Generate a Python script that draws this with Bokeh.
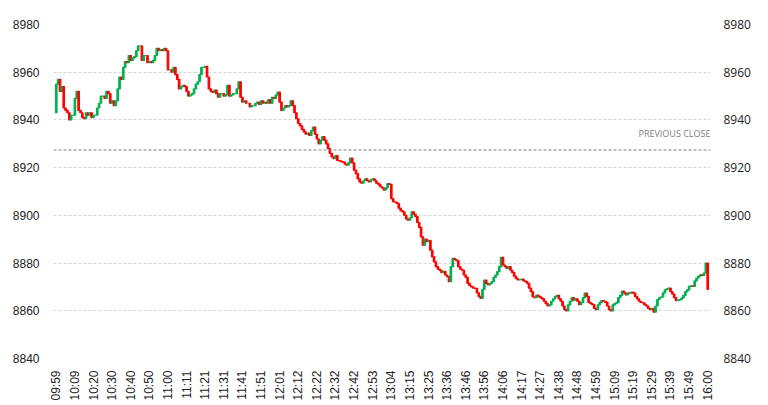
from bokeh.plotting import figure
from bokeh.models import ColumnDataSource, FixedTicker, LinearAxis, Span, Label, Range1d
from bokeh.embed import file_html
from bokeh.resources import INLINE

# ---- data ----
time_labels = ["09:59", "10:09", "10:20", "10:30", "10:40", "10:50", "11:00", "11:11",
               "11:21", "11:31", "11:41", "11:51", "12:01", "12:12", "12:22", "12:32",
               "12:42", "12:53", "13:04", "13:15", "13:25", "13:36", "13:46", "13:56",
               "14:06", "14:17", "14:27", "14:38", "14:48", "14:59", "15:09", "15:19",
               "15:29", "15:39", "15:49", "16:00"]
y_ticks = [8840, 8860, 8880, 8900, 8920, 8940, 8960, 8980]
previous_close = 8927.4
first_open = 8943.0
closes = [
    8955, 8957, 8952, 8954, 8945, 8944, 8943, 8940, 8942, 8942,
    8949, 8952, 8944, 8943, 8941, 8940.5, 8943, 8942, 8943, 8941,
    8942, 8942, 8945, 8947, 8950, 8950, 8949, 8952, 8951, 8947,
    8948, 8946, 8948, 8953, 8958, 8957, 8962, 8964.5, 8964, 8967,
    8965, 8966, 8966.5, 8969, 8971, 8971, 8965, 8967, 8967, 8964,
    8964.5, 8964, 8965, 8967, 8970, 8969, 8969.5, 8969, 8970, 8969,
    8961, 8961, 8960, 8962, 8959, 8957, 8953, 8954, 8954.5, 8954,
    8952, 8950, 8950.5, 8951, 8953, 8955, 8956, 8959, 8962, 8962,
    8962.5, 8958, 8953, 8952, 8951.5, 8952.5, 8951, 8949.5, 8951, 8951,
    8950, 8950.5, 8954.5, 8950, 8950.5, 8951, 8951, 8953, 8956, 8949.5,
    8947.5, 8948, 8947, 8947, 8945.5, 8946, 8946, 8947, 8947.5, 8946.5,
    8948, 8947, 8947.5, 8947, 8948.5, 8947, 8949.5, 8949, 8950.5, 8951.7,
    8947.5, 8944, 8945, 8946, 8945.5, 8946, 8948, 8946, 8943, 8940.5,
    8938.5, 8937.5, 8936, 8935, 8934, 8934.5, 8933.5, 8935.5, 8937, 8934,
    8932, 8930, 8931.5, 8933, 8931.5, 8930, 8928, 8926, 8924.5, 8923.8,
    8925, 8923, 8922.8, 8922.5, 8922.3, 8921.5, 8921, 8922, 8924, 8922,
    8919, 8917.5, 8915.3, 8914, 8913.5, 8914.5, 8915.3, 8914.5, 8914, 8915,
    8915.3, 8914.5, 8913.5, 8913, 8912, 8911.5, 8910.6, 8911.5, 8913.3, 8913,
    8907, 8905.7, 8905.5, 8905, 8903, 8902, 8901.5, 8900, 8898.5, 8898,
    8899, 8901.5, 8900.5, 8899.5, 8897, 8895, 8891, 8887.5, 8890, 8889,
    8889.5, 8885.4, 8882.6, 8880.5, 8878.5, 8877.5, 8877, 8876, 8876.5, 8875,
    8874.3, 8872.2, 8878.5, 8882, 8881.5, 8881, 8878.5, 8877.5, 8877, 8875,
    8874, 8871.5, 8870.5, 8870, 8869.5, 8869.4, 8867.5, 8866, 8865.2, 8869,
    8872.9, 8871.5, 8870.8, 8871.5, 8872.2, 8874, 8875, 8876.4, 8878.5, 8882.4,
    8879.2, 8878.5, 8877.8, 8878.5, 8877, 8876, 8874.5, 8873.5, 8872.9, 8873,
    8873.3, 8872.5, 8872.2, 8871.5, 8869.5, 8868, 8865.8, 8865.5, 8866.6, 8866,
    8865.5, 8865, 8864, 8863, 8862, 8862.5, 8864, 8865, 8866, 8866.5,
    8865, 8864, 8862, 8860.5, 8860, 8862.5, 8864, 8865.5, 8864.5, 8865,
    8864, 8862.6, 8863.5, 8865.5, 8867.4, 8866, 8863.5, 8863, 8862.6, 8861,
    8860.5, 8862.5, 8863.5, 8864.3, 8864, 8863.5, 8862, 8860.5, 8860, 8862.5,
    8863, 8863.5, 8865.5, 8866.5, 8868.2, 8867.5, 8866.7, 8867.5, 8867.4, 8867.8,
    8867.4, 8866, 8865, 8864, 8863.5, 8863.3, 8862.5, 8862, 8861, 8860.5,
    8861, 8859.4, 8862, 8864.7, 8865.5, 8865.8, 8867.5, 8868.8, 8869.2, 8869.5,
    8868, 8867, 8865.5, 8864.3, 8864.5, 8864.7, 8865.4, 8866.5, 8868, 8868.8,
    8870.2, 8870.5, 8870.2, 8872.5, 8873.7, 8874.5, 8875.1, 8874.8, 8875.8, 8880,
    8869,
]
opens = [first_open] + closes[:-1]
idx = list(range(len(closes)))
UP, DOWN = "#00B050", "#FF0000"
colors = [UP if c >= o else DOWN for o, c in zip(opens, closes)]
tops = [max(o, c) for o, c in zip(opens, closes)]
bottoms = [min(o, c) for o, c in zip(opens, closes)]

src = ColumnDataSource(dict(x=idx, top=tops, bottom=bottoms, color=colors))

p = figure(frame_width=657, frame_height=334, output_backend="svg", toolbar_location=None,
           x_range=Range1d(-1.5, 351.5), y_range=Range1d(8840, 8980),
           min_border_left=53, min_border_right=50, min_border_top=24, min_border_bottom=44)
p.outline_line_color = None
p.background_fill_color = "white"

p.vbar(x="x", top="top", bottom="bottom", width=0.8, source=src,
       fill_color="color", line_color="color", line_width=1.2)

# previous close
p.add_layout(Span(location=previous_close, dimension="width", line_color="#7f7f7f",
                  line_width=1, line_dash="3 2"))
p.add_layout(Label(x=351.5, y=previous_close, text="PREVIOUS CLOSE", text_align="right",
                   text_baseline="bottom", y_offset=10, text_color="#808080",
                   text_font="Open Sans", text_font_size="9px"))

# grid
p.xgrid.grid_line_color = None
p.ygrid.ticker = FixedTicker(ticks=y_ticks)
p.ygrid.grid_line_color = "#d4d4d4"
p.ygrid.grid_line_dash = "3 2"

# x axis
xa = p.xaxis[0]
xa.ticker = FixedTicker(ticks=[i * 10 for i in range(len(time_labels))])
xa.major_label_overrides = {i * 10: t for i, t in enumerate(time_labels)}
xa.major_label_orientation = 1.5707963
xa.major_label_standoff = 12
xa.major_label_text_font = "Liberation Sans"
xa.major_label_text_font_size = "12px"
xa.major_label_text_color = "#222222"

# left y axis
ya = p.yaxis[0]
ya.ticker = FixedTicker(ticks=y_ticks)
ya.major_label_standoff = 14
ya.major_label_text_font = "Liberation Sans"
ya.major_label_text_font_size = "12px"
ya.major_label_text_color = "#222222"

# right y axis
ra = LinearAxis(ticker=FixedTicker(ticks=y_ticks))
ra.major_label_standoff = 13
ra.major_label_text_font = "Open Sans"
ra.major_label_text_font_size = "12px"
ra.major_label_text_color = "#222222"
p.add_layout(ra, "right")

for ax in (xa, ya, ra):
    ax.axis_line_color = None
    ax.major_tick_line_color = None
    ax.minor_tick_line_color = None
    ax.major_tick_out = 0
    ax.major_tick_in = 0
    ax.minor_tick_out = 0
    ax.minor_tick_in = 0

open("out.html", "w").write(file_html(p, INLINE))
